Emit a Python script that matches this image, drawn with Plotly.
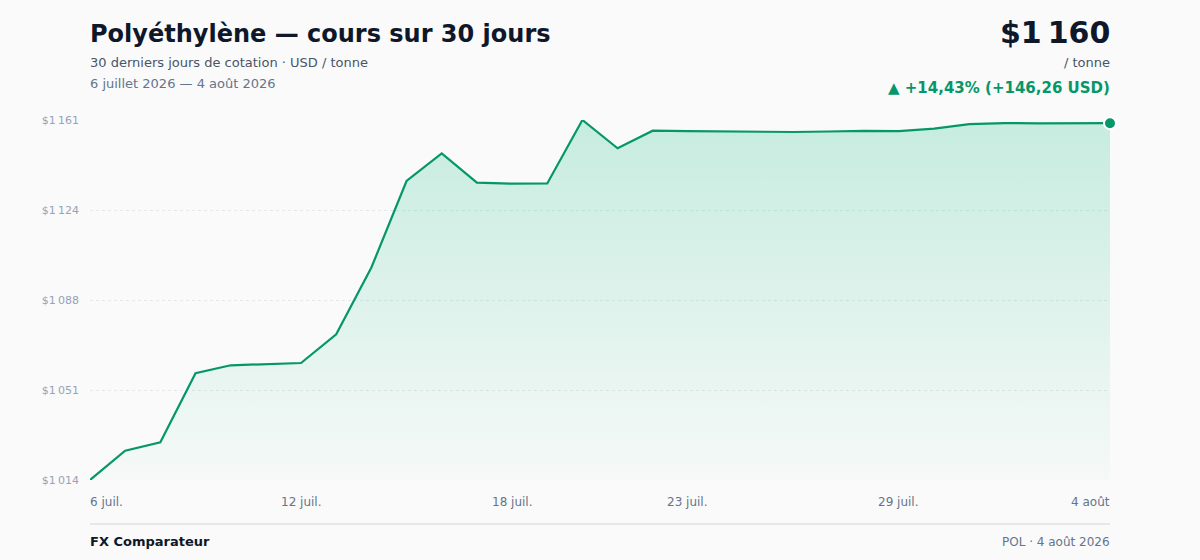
import numpy as np
import pandas as pd
import plotly.graph_objects as go

# Prix du polyéthylène, USD / tonne, 30 derniers jours
dates = pd.date_range("2026-07-06", periods=30, freq="D")
prices = [
    1013.74, 1025.75, 1029.19, 1057.48, 1060.76, 1061.29, 1061.70, 1073.46,
    1100.84, 1136.30, 1147.65, 1135.60, 1135.19, 1135.28, 1161.30, 1149.70,
    1156.92, 1156.71, 1156.51, 1156.39, 1156.39, 1156.59, 1156.84, 1156.75,
    1157.78, 1159.58, 1160.05, 1159.91, 1159.83, 1160.00,
]

tick_dates = ["2026-07-06", "2026-07-12", "2026-07-18", "2026-07-23", "2026-07-29", "2026-08-04"]
tick_text = ["6 juil.", "12 juil.", "18 juil.", "23 juil.", "29 juil.", "4 août"]

GREEN = "#059669"
FONT = "DejaVu Sans"
NNBSP = "\u202f"


def fmt_usd(v):
    return "$" + f"{v:,.0f}".replace(",", NNBSP)


y_min, y_max = min(prices), max(prices)
y_ticks = np.linspace(y_min, y_max, 5)

first, last = prices[0], prices[-1]
delta = last - first
pct = delta / first * 100
change_txt = f"▲ +{pct:.2f}% (+{delta:.2f} USD)".replace(".", ",")

fig = go.Figure()

fig.add_trace(
    go.Scatter(
        x=dates,
        y=prices,
        mode="lines",
        line=dict(color=GREEN, width=2.2),
        fill="tozeroy",
        fillgradient=dict(
            type="vertical",
            start=y_min,
            stop=y_max,
            colorscale=[[0, "rgba(16,185,129,0.02)"], [1, "rgba(16,185,129,0.22)"]],
        ),
        hoverinfo="skip",
        showlegend=False,
    )
)

fig.add_trace(
    go.Scatter(
        x=[dates[-1]],
        y=[last],
        mode="markers",
        marker=dict(color=GREEN, size=12, line=dict(color="white", width=2)),
        cliponaxis=False,
        hoverinfo="skip",
        showlegend=False,
    )
)

annotations = [
    dict(text="<b>Polyéthylène — cours sur 30 jours</b>", x=0, y=1.239,
         xanchor="left", font=dict(size=24, color="#0f172a")),
    dict(text="30 derniers jours de cotation · USD / tonne", x=0, y=1.161,
         xanchor="left", font=dict(size=13, color="#475569")),
    dict(text="6 juillet 2026 — 4 août 2026", x=0, y=1.100,
         xanchor="left", font=dict(size=13, color="#64748b")),
    dict(text="<b>" + fmt_usd(last) + "</b>", x=1, y=1.244,
         xanchor="right", font=dict(size=30, color="#0f172a")),
    dict(text="/ tonne", x=1, y=1.161,
         xanchor="right", font=dict(size=13, color="#475569")),
    dict(text="<b>" + change_txt + "</b>", x=1, y=1.089,
         xanchor="right", font=dict(size=15, color=GREEN)),
    dict(text="<b>FX Comparateur</b>", x=0, y=-0.171,
         xanchor="left", font=dict(size=13, color="#0f172a")),
    dict(text="POL · 4 août 2026", x=1, y=-0.171,
         xanchor="right", font=dict(size=12, color="#64748b")),
]
for a in annotations:
    a.update(xref="paper", yref="paper", yanchor="middle", showarrow=False,
             xshift=-2 if a["xanchor"] == "left" else 2)

# étiquettes de l'axe des dates (première à gauche, dernière à droite)
for i, (d, t) in enumerate(zip(tick_dates, tick_text)):
    anchor = "left" if i == 0 else ("right" if i == len(tick_dates) - 1 else "center")
    shift = {"left": -2, "right": 2, "center": 0}[anchor]
    annotations.append(
        dict(text=t, x=d, xref="x", y=-0.06, yref="paper", yanchor="middle",
             xanchor=anchor, xshift=shift, showarrow=False,
             font=dict(size=12, color="#64748b"))
    )

fig.update_layout(
    width=1200,
    height=560,
    margin=dict(l=90, r=90, t=120, b=80),
    paper_bgcolor="#fafafa",
    plot_bgcolor="#fafafa",
    font=dict(family=FONT),
    annotations=annotations,
    shapes=[
        dict(type="line", xref="paper", yref="paper", x0=0, x1=1, y0=-0.122, y1=-0.122,
             line=dict(color="#e5e7eb", width=2)),
    ],
    hovermode=False,
)

fig.update_xaxes(
    range=[dates[0], dates[-1]],
    showgrid=False,
    showticklabels=False,
    zeroline=False,
    showline=False,
)

fig.update_yaxes(
    range=[y_min, y_max],
    tickvals=y_ticks,
    ticktext=[fmt_usd(v) for v in y_ticks],
    tickfont=dict(size=11, color="#94a3b8"),
    ticks="",
    ticklabelstandoff=10,
    showgrid=True,
    gridcolor="#e5e7eb",
    griddash="dot",
    gridwidth=1,
    zeroline=False,
    showline=False,
)

fig.write_html(
    "out.html",
    config={"displayModeBar": False},
    post_script="document.body.style.margin='0';document.body.style.background='#fafafa';",
)
